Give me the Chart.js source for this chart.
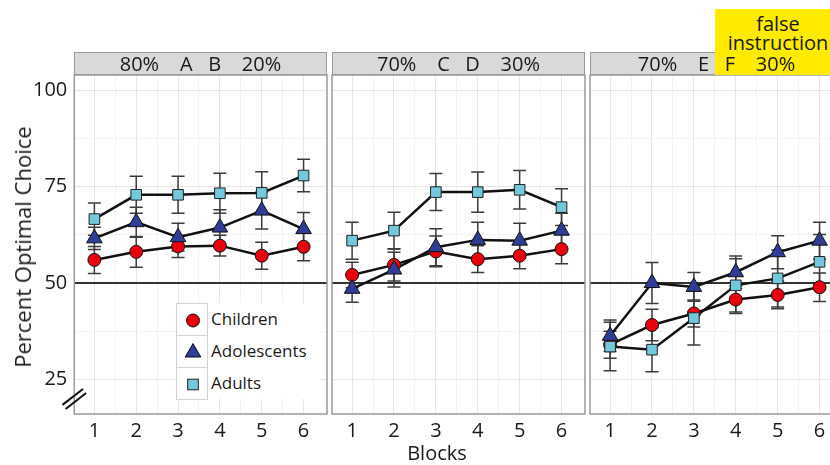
<!DOCTYPE html>
<html><head><meta charset="utf-8">
<script src="https://cdn.jsdelivr.net/npm/chart.js@4.4.1/dist/chart.umd.min.js"></script>
<style>
html,body{margin:0;padding:0;background:#fff;width:830px;height:465px;overflow:hidden;position:relative;font-family:"Open Sans",sans-serif;color:#1a1a1a}
canvas{position:absolute;top:73px}
.hdr{position:absolute;top:52px;height:23px;width:253px;background:#d9d9d9;border:1px solid #9a9a9a;box-sizing:border-box;z-index:1}
.htxt{position:absolute;top:50px;width:253px;text-align:center;font-size:20px;line-height:27px;white-space:pre;z-index:3}
#flag{position:absolute;left:715px;top:9px;width:126px;height:66px;background:#ffea00;z-index:2;text-align:center;font-size:20px;line-height:19px;padding-top:5px;box-sizing:border-box}
#ytitle{position:absolute;left:22px;top:247px;transform:translate(-50%,-50%) rotate(-90deg);font-size:22px;white-space:nowrap}
#xtitle{position:absolute;left:437px;top:452px;transform:translate(-50%,-50%);font-size:20px;white-space:nowrap}
#legend{position:absolute;left:176px;top:303px;width:144px;background:#fff;z-index:4}
.lrow{position:relative;height:32px}
.lkey{position:absolute;left:0;top:0;width:32px;height:33px;border:1px solid #d4d4d4;box-sizing:border-box;background:#fff}
.lkey svg{position:absolute;left:0;top:0}
.ltxt{position:absolute;left:35px;top:0;line-height:32px;font-size:17px}
</style></head>
<body>
<canvas id="p1" width="330" height="392" style="left:0px"></canvas>
<canvas id="p2" width="260" height="392" style="left:328px"></canvas>
<canvas id="p3" width="260" height="392" style="left:586px"></canvas>

<div class="hdr" style="left:74px"></div>
<div class="hdr" style="left:332px"></div>
<div class="hdr" style="left:590px"></div>
<div id="flag">false<br>instruction</div>
<div class="htxt" id="t1" style="left:74px"></div>
<div class="htxt" id="t2" style="left:332px"></div>
<div class="htxt" id="t3" style="left:590px"></div>

<div id="ytitle">Percent Optimal Choice</div>
<div id="xtitle">Blocks</div>

<div id="legend">
  <div class="lrow"><div class="lkey"><svg width="32" height="32"><circle cx="16" cy="16.5" r="6.5" fill="#e8000d" stroke="#111" stroke-width="1"/></svg></div><div class="ltxt" id="lg0"></div></div>
  <div class="lrow"><div class="lkey"><svg width="32" height="32"><polygon points="16,7.5 23.8,21 8.2,21" fill="#2f3d96" stroke="#111" stroke-width="1"/></svg></div><div class="ltxt" id="lg1"></div></div>
  <div class="lrow"><div class="lkey"><svg width="32" height="32"><rect x="10.7" y="11.2" width="10.6" height="10.6" fill="#74c8dc" stroke="#222" stroke-width="1"/></svg></div><div class="ltxt" id="lg2"></div></div>
</div>

<script>
// ---------------- data ----------------
const blocks = [1, 2, 3, 4, 5, 6];
const xTickLabels = [1, 2, 3, 4, 5, 6];
const yTickLabels = [25, 50, 75, 100];
const chanceLevel = 50;
const seriesNames = ['Children', 'Adolescents', 'Adults'];
const panelTitles = ['80%    A   B    20%', '70%    C   D    30%', '70%    E   F    30%'];

// Panel 1: 80% A B 20%
const childrenA    = [56.0, 58.1, 59.5, 59.7, 57.1, 59.4];
const adolescentsA = [61.6, 65.8, 61.9, 64.4, 68.8, 64.0];
const adultsA      = [66.6, 72.9, 72.9, 73.3, 73.4, 77.9];
const childrenErrA    = [3.5, 4.0, 2.9, 2.7, 3.5, 3.6];
const adolescentsErrA = [2.9, 3.9, 3.6, 4.6, 4.8, 4.3];
const adultsErrA      = [4.2, 4.8, 4.8, 5.2, 5.5, 4.2];

// Panel 2: 70% C D 30%
const childrenC    = [52.1, 54.7, 58.2, 56.2, 57.1, 58.8];
const adolescentsC = [48.5, 53.5, 59.3, 61.2, 61.0, 63.6];
const adultsC      = [61.0, 63.6, 73.6, 73.6, 74.2, 69.7];
const childrenErrC    = [3.3, 4.2, 4.0, 3.5, 3.4, 3.8];
const adolescentsErrC = [3.5, 4.5, 4.8, 4.6, 4.5, 4.5];
const adultsErrC      = [4.8, 4.8, 4.8, 5.2, 5.0, 4.8];

// Panel 3: 70% E F 30% (false instruction)
const childrenE    = [34.0, 39.1, 42.1, 45.7, 46.9, 48.9];
const adolescentsE = [36.3, 50.0, 49.0, 52.8, 58.0, 61.0];
const adultsE      = [33.5, 32.7, 40.9, 49.4, 51.2, 55.5];
const childrenErrE    = [3.5, 4.1, 3.5, 3.6, 3.6, 3.7];
const adolescentsErrE = [4.1, 5.3, 3.7, 4.2, 4.3, 4.8];
const adultsErrE      = [6.3, 5.7, 7.0, 6.9, 7.4, 7.1];

// ---------------- styles ----------------
const FONT = '"Open Sans", sans-serif';
const markers = [
  {shape: 'circle',   r: 6.5, fill: '#e8000d', stroke: '#111'},
  {shape: 'triangle', r: 9,   fill: '#2f3d96', stroke: '#111'},
  {shape: 'rect',     r: 7.5, fill: '#74c8dc', stroke: '#222'}
];
const xMin = 0.52, xMax = 6.56, yMin = 16, yMax = 104;

panelTitles.forEach((t, i) => document.getElementById('t' + (i + 1)).textContent = t);
seriesNames.forEach((n, i) => document.getElementById('lg' + i).textContent = n);

const errorBars = {
  id: 'errorBars',
  beforeDatasetsDraw(chart) {
    const {ctx, chartArea: a, scales: {x, y}} = chart;
    ctx.save();
    const y50 = y.getPixelForValue(chanceLevel);
    ctx.strokeStyle = '#333'; ctx.lineWidth = 2;
    ctx.beginPath(); ctx.moveTo(a.left, y50); ctx.lineTo(a.right, y50); ctx.stroke();
    ctx.strokeStyle = '#3c3c3c'; ctx.lineWidth = 1.5;
    chart.data.datasets.forEach(ds => {
      if (!ds.isPoints) return;
      ds.data.forEach(p => {
        const px = x.getPixelForValue(p.x);
        const top = y.getPixelForValue(p.y + p.e), bot = y.getPixelForValue(p.y - p.e);
        ctx.beginPath();
        ctx.moveTo(px, top); ctx.lineTo(px, bot);
        ctx.moveTo(px - 6.5, top); ctx.lineTo(px + 6.5, top);
        ctx.moveTo(px - 6.5, bot); ctx.lineTo(px + 6.5, bot);
        ctx.stroke();
      });
    });
    ctx.restore();
  },
  afterDraw(chart, args, opts) {
    const {ctx, chartArea: a, scales: {y}} = chart;
    ctx.save();
    ctx.strokeStyle = '#9a9a9a'; ctx.lineWidth = 1.5;
    ctx.strokeRect(a.left, a.top, a.right - a.left, a.bottom - a.top);
    if (opts.axisBreak) {
      const cy = y.getPixelForValue(19.9), cx = a.left;
      const ang = -0.66, L = 13, dx = Math.cos(ang) * L, dy = Math.sin(ang) * L;
      const nx = -Math.sin(ang) * 2.6, ny = Math.cos(ang) * 2.6;
      ctx.strokeStyle = '#111'; ctx.lineWidth = 2;
      [-1, 1].forEach(k => {
        ctx.beginPath();
        ctx.moveTo(cx - dx + k * nx, cy - dy + k * ny);
        ctx.lineTo(cx + dx + k * nx, cy + dy + k * ny);
        ctx.stroke();
      });
    }
    ctx.restore();
  }
};

function noPad(s) { s.paddingTop = 0; s.paddingBottom = 0; s.paddingLeft = 0; s.paddingRight = 0; }

function makePanel(id, series, errs, first) {
  const datasets = [];
  series.forEach(vals => datasets.push({
    data: blocks.map((b, j) => ({x: b, y: vals[j]})),
    borderColor: '#111', borderWidth: 2.5, pointRadius: 0, fill: false, tension: 0, order: 10
  }));
  series.forEach((vals, i) => datasets.push({
    label: seriesNames[i], isPoints: true,
    data: blocks.map((b, j) => ({x: b, y: vals[j], e: errs[i][j]})),
    showLine: false, pointStyle: markers[i].shape, pointRadius: markers[i].r,
    pointBackgroundColor: markers[i].fill, pointBorderColor: markers[i].stroke, pointBorderWidth: 1,
    order: 3 - i
  }));
  const xTicks = [];
  for (let v = 1; v <= 6; v += 0.5) xTicks.push(v);
  const yTicks = [];
  for (let v = 25; v <= 100; v += 12.5) yTicks.push(v);
  return new Chart(document.getElementById(id), {
    type: 'line',
    data: {datasets},
    options: {
      responsive: false, animation: false, devicePixelRatio: 1,
      layout: {padding: {top: 2, right: 3, left: first ? 0 : 4, bottom: 0}, autoPadding: false},
      plugins: {legend: {display: false}, tooltip: {enabled: false}, errorBars: {axisBreak: first}},
      scales: {
        x: {
          type: 'linear', min: xMin, max: xMax,
          border: {display: false},
          grid: {drawTicks: false, lineWidth: 1, color: c => Number.isInteger(c.tick.value) ? '#e6e6e6' : '#f3f3f3'},
          ticks: {padding: 5, autoSkip: false, maxRotation: 0, color: '#1a1a1a', font: {family: FONT, size: 20},
                  callback: v => xTickLabels.includes(v) ? String(v) : ''},
          afterBuildTicks: s => { s.ticks = xTicks.map(v => ({value: v})); },
          afterFit: s => { s.height = 51; noPad(s); }
        },
        y: {
          type: 'linear', min: yMin, max: yMax,
          border: {display: false},
          grid: {drawTicks: false, lineWidth: 1, color: c => yTickLabels.includes(c.tick.value) ? '#e6e6e6' : '#f3f3f3'},
          ticks: {display: first, padding: 7, autoSkip: false, color: '#1a1a1a', font: {family: FONT, size: 20},
                  callback: v => yTickLabels.includes(v) ? String(v) : ''},
          afterBuildTicks: s => { s.ticks = yTicks.map(v => ({value: v})); },
          afterFit: s => { s.width = first ? 74.3 : 0; noPad(s); }
        }
      }
    },
    plugins: [errorBars]
  });
}

makePanel('p1', [childrenA, adolescentsA, adultsA], [childrenErrA, adolescentsErrA, adultsErrA], true);
makePanel('p2', [childrenC, adolescentsC, adultsC], [childrenErrC, adolescentsErrC, adultsErrC], false);
makePanel('p3', [childrenE, adolescentsE, adultsE], [childrenErrE, adolescentsErrE, adultsErrE], false);
</script>
</body></html>
